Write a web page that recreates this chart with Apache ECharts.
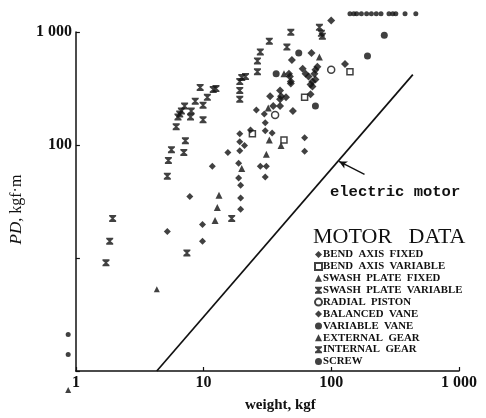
<!DOCTYPE html>
<html>
<head>
<meta charset="utf-8">
<script src="https://cdn.jsdelivr.net/npm/echarts@6/dist/echarts.min.js"></script>
<style>
html,body{margin:0;padding:0;background:#fff;}
#chart{width:486px;height:418px;}
</style>
</head>
<body>
<div id="chart"></div>
<script>
// ---- data: [weight kgf, PD kgf·m] ----
const seriesNames = ['BEND AXIS FIXED','BEND AXIS VARIABLE','SWASH PLATE FIXED','SWASH PLATE VARIABLE','RADIAL PISTON','BALANCED VANE','VARIABLE VANE','EXTERNAL GEAR','INTERNAL GEAR','SCREW'];
const xTicks = [1, 10, 100, 1000];
const yTicks = [100, 1000];

const bendAxisFixed = [[99.8,1265],[70,652],[49.1,566],[128,522],[77.8,492],[75.1,464],[59.7,473],[62.9,428],[66.4,403],[73.8,428],[46.6,428],[47.4,403],[48.2,364],[48.2,350],[71.2,364],[75.1,379],[68.8,343],[71.2,330],[39.7,304],[33.2,270],[40.4,270],[44.2,264],[39.7,254],[68.8,281],[50.0,200],[35.1,221],[39.7,221]];
const bendAxisVariable = [[140,445],[61.8,264],[42.6,111],[24.1,126]];
const swashPlateFixed = [[80.7,602],[42.6,428],[32.1,212],[40.4,99],[32.7,111],[31.0,83],[19.9,62],[13.2,36],[12.8,28],[12.3,21.5]];
const swashPlateVariable = [[1.72,9.06],[1.84,14.1],[1.94,22.4],[5.2,53],[5.3,73],[5.6,91],[7.0,86],[7.2,109],[6.1,145],[6.3,177],[6.5,188],[6.7,200],[7.1,221],[7.9,177],[8.0,200],[8.6,244],[9.4,323],[9.9,225],[9.9,167],[10.7,264],[11.9,310],[12.5,316],[19.2,254],[19.2,304],[19.9,395],[21.3,403],[26.4,445],[26.4,555],[27.8,666],[32.7,830],[44.9,736],[48.2,995],[80.7,1099],[83.6,974],[85.1,918]];
const radialPiston = [[99.8,464],[36.3,184]];
const balancedVane = [[25.9,204],[29.9,188],[30.4,157],[23.3,136],[30.4,134],[34.4,128],[19.2,126],[19.2,107],[20.9,99],[19.2,89],[15.5,86],[18.8,69],[18.8,51],[19.5,44],[19.5,34],[19.5,27],[27.8,65],[31.0,65],[30.4,52],[61.8,116],[61.8,88],[11.7,65],[7.8,35],[9.8,19.8],[9.8,14.1],[5.2,17.2]];
const variableVane = [[260,936],[192,614],[55.6,652],[75.1,221],[37.0,428]];
const externalGear = [[4.3,5.3],[0.87,0.68]];
const internalGear = [[7.4,11.1],[16.6,22.4],[19.2,364]];
const screw = [[140,1450],[150,1450],[158,1450],[172,1450],[189,1450],[206,1450],[225,1450],[245,1450],[283,1450],[303,1450],[320,1450],[378,1450],[459,1450],[0.87,2.1],[0.87,1.4]];
const electricMotor = [[4.3,1],[435,420]];
const motorArrow = [[182,55],[115,71.6]];

const INK = '#111';
const HOUR = 'path://M0,0H10V2L6.4,5L10,8V10H0V8L3.6,5L0,2Z';

function fmt(v){ return v >= 1000 ? String(v).replace(/(\d)(\d{3})$/, '$1 $2') : String(v); }

function sc(name, data, symbol, size, open){
  return {
    name, type:'scatter', data, symbol, symbolSize:size, clip:false,
    itemStyle: open ? {color:'#fff', borderColor:INK, borderWidth:1.5} : {color:INK},
    emphasis:{disabled:true}
  };
}

const chart = echarts.init(document.getElementById('chart'), null, {renderer:'canvas'});
chart.setOption({
  animation:false,
  backgroundColor:'#fff',
  title:{
    text:'MOTOR   DATA', left:313, top:226, padding:0,
    textStyle:{fontFamily:'Liberation Serif', fontWeight:'normal', fontSize:22, color:INK}
  },
  legend:{
    data:seriesNames, orient:'vertical', left:314, top:249,
    itemWidth:7, itemHeight:7, itemGap:0.9, padding:0,
    formatter:(n)=> n.replace(/ /g, '  '),
    textStyle:{fontFamily:'Liberation Serif', fontWeight:'bold', fontSize:10.8, color:INK, padding:[0,0,0,-4]},
    selectedMode:false
  },
  grid:{left:70, top:32, width:389, height:344, containLabel:false},
  xAxis:{
    type:'log', logBase:10, min:1, max:1000,
    name:'weight, kgf', nameLocation:'middle', nameGap:27,
    nameTextStyle:{fontFamily:'Liberation Serif', fontWeight:'bold', fontSize:15, color:INK, padding:[0,0,0,26]},
    axisLine:{lineStyle:{color:INK, width:1.5}},
    axisTick:{inside:true, length:4, lineStyle:{color:INK, width:1.2}},
    minorTick:{show:false},
    splitLine:{show:false},
    axisLabel:{
      margin:4, fontFamily:'Liberation Serif', fontWeight:'bold', fontSize:16, color:INK,
      formatter:(v)=> xTicks.includes(Math.round(v)) ? fmt(Math.round(v)) : ''
    }
  },
  yAxis:{
    type:'log', logBase:10, min:1, max:1000,
    name:'{i|PD}, kgf·m', nameLocation:'middle', nameGap:41, nameRotate:90,
    nameTextStyle:{fontFamily:'Liberation Serif', fontSize:16, color:INK, padding:[0,16,0,0],
      rich:{i:{fontFamily:'Liberation Serif', fontStyle:'italic', fontSize:17, color:INK}}},
    axisLine:{lineStyle:{color:INK, width:1.5}},
    axisTick:{inside:true, length:4, lineStyle:{color:INK, width:1.2}},
    splitLine:{show:false},
    axisLabel:{
      margin:4, fontFamily:'Liberation Serif', fontWeight:'bold', fontSize:16, color:INK,
      formatter:(v)=> yTicks.includes(Math.round(v)) ? fmt(Math.round(v)) : ''
    }
  },
  graphic:[{
    type:'text', left:330, top:184,
    style:{text:'electric motor', fontFamily:'Liberation Mono', fontWeight:'bold', fontSize:15.5, fill:INK}
  }],
  series:[
    sc('BEND AXIS FIXED', bendAxisFixed, 'diamond', 8, false),
    sc('BEND AXIS VARIABLE', bendAxisVariable, 'rect', 6, true),
    sc('SWASH PLATE FIXED', swashPlateFixed, 'triangle', 7, false),
    sc('SWASH PLATE VARIABLE', swashPlateVariable, HOUR, 7, false),
    sc('RADIAL PISTON', radialPiston, 'circle', 7, true),
    sc('BALANCED VANE', balancedVane, 'diamond', 7, false),
    sc('VARIABLE VANE', variableVane, 'circle', 7, false),
    sc('EXTERNAL GEAR', externalGear, 'triangle', 6, false),
    sc('INTERNAL GEAR', internalGear, HOUR, 7, false),
    sc('SCREW', screw, 'circle', 5, false),
    {
      name:'electric motor', type:'line', data:electricMotor, symbol:'none', clip:false,
      lineStyle:{color:INK, width:1.7}, emphasis:{disabled:true},
      markLine:{
        silent:true, symbol:['none','arrow'], symbolSize:[6,8],
        lineStyle:{color:INK, width:1.3, type:'solid'}, label:{show:false},
        data:[[{coord:motorArrow[0]},{coord:motorArrow[1]}]]
      }
    }
  ]
});
</script>
</body>
</html>
